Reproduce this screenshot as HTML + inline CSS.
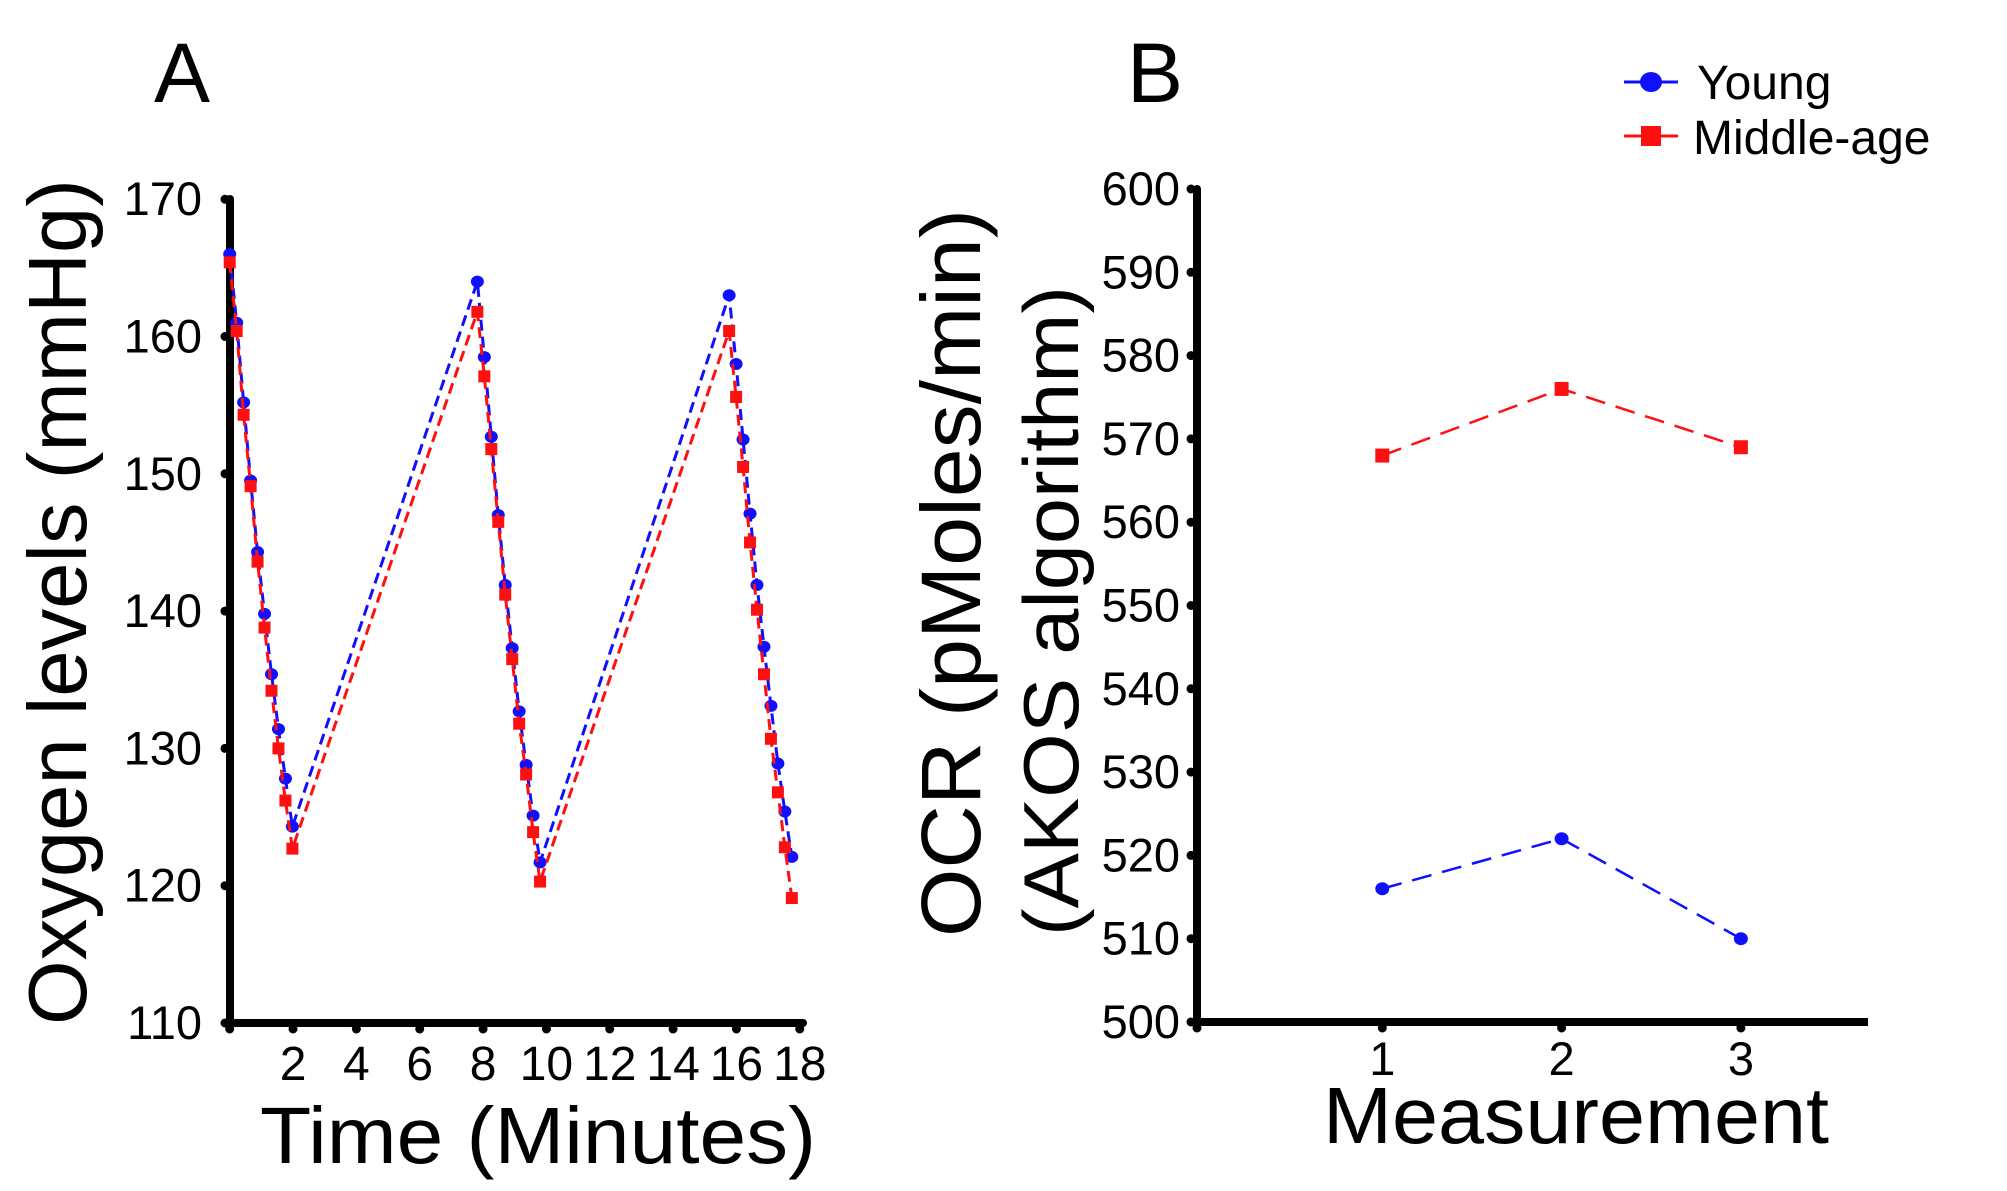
<!DOCTYPE html>
<html><head><meta charset="utf-8"><style>
html,body{margin:0;padding:0;background:#fff;}
svg{display:block;font-family:"Liberation Sans",Arial,sans-serif;}
</style></head><body>
<svg id="chart" width="2007" height="1191" viewBox="0 0 2007 1191" xmlns="http://www.w3.org/2000/svg">
<text x="154" y="102" font-size="84">A</text>
<text x="1127" y="102" font-size="84">B</text>
<text transform="translate(86,602) rotate(-90)" text-anchor="middle" font-size="83" textLength="846" lengthAdjust="spacingAndGlyphs">Oxygen levels (mmHg)</text>
<text x="260" y="1163" font-size="80" textLength="556" lengthAdjust="spacingAndGlyphs">Time (Minutes)</text>
<text transform="translate(980,573) rotate(-90)" text-anchor="middle" font-size="84" textLength="728" lengthAdjust="spacingAndGlyphs">OCR (pMoles/min)</text>
<text transform="translate(1078,611) rotate(-90)" text-anchor="middle" font-size="78" textLength="650" lengthAdjust="spacingAndGlyphs">(AKOS algorithm)</text>
<text x="1323" y="1143" font-size="80" textLength="506" lengthAdjust="spacingAndGlyphs">Measurement</text>
<g>
<g>
<line x1="1624" y1="82" x2="1678" y2="82" stroke="#1010ff" stroke-width="3"/>
<ellipse cx="1651" cy="82" rx="11" ry="10" fill="#1010ff"/>
<text x="1697" y="99" font-size="48">Young</text>
</g>
<g>
<line x1="1624" y1="136" x2="1678" y2="136" stroke="#ff1010" stroke-width="3"/>
<rect x="1641" y="126" width="20" height="20" fill="#ff1010"/>
<text x="1693" y="154" font-size="48">Middle-age</text>
</g>
</g>
<g id="pa"></g>
<g id="pb"></g>
</svg>
<script>
// Panel A data
const timesA = [0,0.22,0.44,0.66,0.88,1.1,1.32,1.54,1.76,1.98,
  7.82,8.04,8.26,8.48,8.70,8.92,9.14,9.36,9.58,9.80,
  15.77,15.99,16.21,16.43,16.65,16.87,17.09,17.31,17.53,17.75];
const youngA = [166,161,155.2,149.5,144.3,139.8,135.4,131.4,127.8,124.3,
  164,158.5,152.7,147,141.9,137.3,132.7,128.8,125.1,121.7,
  163,158,152.5,147.1,141.9,137.4,133.1,128.9,125.4,122.1];
const middleA = [165.4,160.4,154.3,149.1,143.6,138.8,134.2,130.0,126.2,122.7,
  161.8,157.1,151.8,146.5,141.2,136.5,131.8,128.1,123.9,120.3,
  160.4,155.6,150.5,145,140.1,135.4,130.7,126.8,122.8,119.1];
const yTicksA = [110,120,130,140,150,160,170];
const xTicksA = [2,4,6,8,10,12,14,16,18];
// Panel B data
const measB = [1,2,3];
const youngB = [516,522,510];
const middleB = [568,576,569];
const yTicksB = [500,510,520,530,540,550,560,570,580,590,600];

const NS="http://www.w3.org/2000/svg";
function mk(parent,tag,attrs){const e=document.createElementNS(NS,tag);for(const k in attrs)e.setAttribute(k,attrs[k]);parent.appendChild(e);return e;}

const xA=t=>229.7+t*31.67, yA=v=>1023-(v-110)*13.73;
const xB=m=>1203+m*179.3, yB=v=>1022-(v-500)*8.33;

const pa=document.getElementById('pa');


let ax=mk(pa,'line',{x1:230,y1:199,x2:230,y2:1023,stroke:'#000','stroke-width':8,'stroke-linecap':'round'});


ax=mk(pa,'line',{x1:230,y1:1023,x2:803,y2:1023,stroke:'#000','stroke-width':8,'stroke-linecap':'round'});


yTicksA.forEach(v=>{
  const c=mk(pa,'circle',{cx:225,cy:yA(v),r:4.5,fill:'#000'});
  
  
  const t=mk(pa,'text',{x:202,y:yA(v)+16,'font-size':47,'text-anchor':'end'});t.textContent=v;
  
  
});
[0].concat(xTicksA).forEach(v=>{
  const c=mk(pa,'circle',{cx:xA(v),cy:1029,r:4.5,fill:'#000'});
  
  
});
xTicksA.forEach(v=>{
  const t=mk(pa,'text',{x:xA(v),y:1080,'font-size':48,'text-anchor':'middle'});t.textContent=v;
  
  
});
function seriesA(vals,color,isSq,name){
  const g=mk(pa,'g',{});
  
  
  const pts=vals.map((v,i)=>xA(timesA[i])+','+yA(v)).join(' ');
  mk(g,'polyline',{points:pts,fill:'none',stroke:color,'stroke-width':3,'stroke-dasharray':'11 6'});
  vals.forEach((v,i)=>{
    let m;
    if(isSq) m=mk(g,'rect',{x:xA(timesA[i])-6,y:yA(v)-6,width:12,height:12,fill:color});
    else m=mk(g,'ellipse',{cx:xA(timesA[i]),cy:yA(v),rx:6.5,ry:6,fill:color});
    
    
  });
}
seriesA(youngA,'#1010ff',false,'young-series-a');
seriesA(middleA,'#ff1010',true,'middle-age-series-a');

const pb=document.getElementById('pb');


ax=mk(pb,'line',{x1:1197,y1:189,x2:1197,y2:1022,stroke:'#000','stroke-width':8,'stroke-linecap':'round'});


ax=mk(pb,'line',{x1:1197,y1:1022,x2:1868,y2:1022,stroke:'#000','stroke-width':8});


yTicksB.forEach(v=>{
  const c=mk(pb,'circle',{cx:1191,cy:yB(v),r:4.5,fill:'#000'});
  
  
  const t=mk(pb,'text',{x:1180,y:yB(v)+16,'font-size':47,'text-anchor':'end'});t.textContent=v;
  
  
});
mk(pb,'circle',{cx:1197,cy:1028,r:4.5,fill:'#000'});
measB.forEach(m=>{
  const c=mk(pb,'circle',{cx:xB(m),cy:1028,r:4.5,fill:'#000'});
  
  
  const t=mk(pb,'text',{x:xB(m),y:1075,'font-size':47,'text-anchor':'middle'});t.textContent=m;
  
  
});
function seriesB(vals,color,isSq,name){
  const g=mk(pb,'g',{});
  
  
  const pts=vals.map((v,i)=>xB(measB[i])+','+yB(v)).join(' ');
  mk(g,'polyline',{points:pts,fill:'none',stroke:color,'stroke-width':2.5,'stroke-dasharray':'20 11'});
  vals.forEach((v,i)=>{
    let m;
    if(isSq) m=mk(g,'rect',{x:xB(measB[i])-7,y:yB(v)-7,width:14,height:14,fill:color});
    else m=mk(g,'ellipse',{cx:xB(measB[i]),cy:yB(v),rx:7,ry:6.5,fill:color});
    
    
  });
}
seriesB(youngB,'#1010ff',false,'young-series-b');
seriesB(middleB,'#ff1010',true,'middle-age-series-b');
</script>
</body></html>
